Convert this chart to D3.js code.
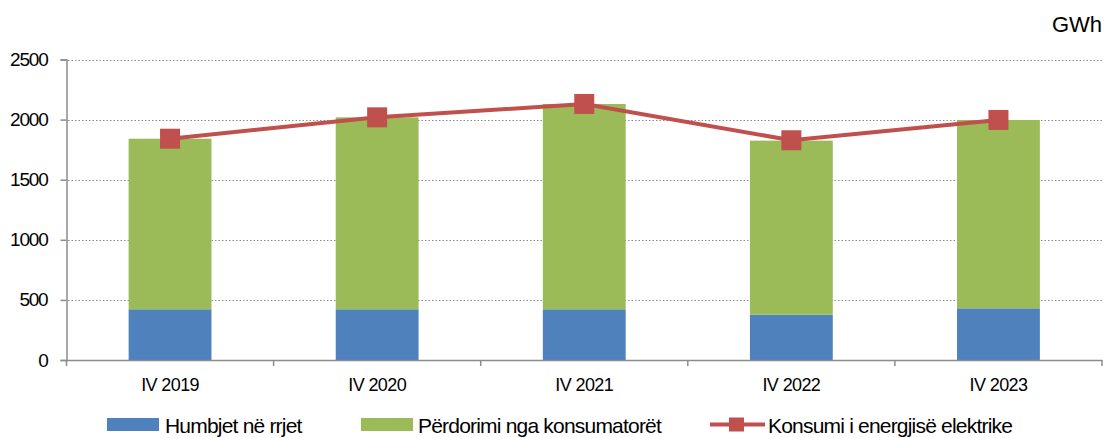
<!DOCTYPE html>
<html>
<head>
<meta charset="utf-8">
<script src="https://cdn.jsdelivr.net/npm/d3@7"></script>
<style>
  body { margin: 0; background: #fff; }
  svg text { font-family: "Liberation Sans", Arial, sans-serif; fill: #000; }
</style>
</head>
<body>
<div id="chart"></div>
<script>
// data
const categories = ['IV 2019', 'IV 2020', 'IV 2021', 'IV 2022', 'IV 2023'];
const humbjet = [422, 422, 422, 377, 430];
const perdorimi = [1419, 1597, 1708, 1448, 1567];
const konsumi = [1841, 2019, 2130, 1828, 1997];
const yTicks = [0, 500, 1000, 1500, 2000, 2500];
const seriesNames = ['Humbjet në rrjet', 'Përdorimi nga konsumatorët', 'Konsumi i energjisë elektrike'];

const width = 1106, height = 438;
const colors = {blue: '#4f81bd', green: '#9bbb59', red: '#c0504d'};

const svg = d3.select('#chart').append('svg')
    .attr('width', width).attr('height', height);

const x = d3.scaleBand().domain(categories).range([66.5, 1102]).paddingInner(0.6).paddingOuter(0.3);
const xb = d3.scaleBand().domain(categories).range([66.5, 1102]);
const y = d3.scaleLinear().domain([0, 2500]).range([360, 59.5]);

// gridlines
svg.append('g').selectAll('line').data(yTicks.slice(1)).join('line')
    .attr('x1', 68).attr('x2', 1102)
    .attr('y1', d => Math.round(y(d)) + 0.5).attr('y2', d => Math.round(y(d)) + 0.5)
    .attr('stroke', '#8c8c8c').attr('stroke-width', 1.2).attr('stroke-dasharray', '1.5,2');

// stacked bars
const rows = categories.map((c, i) => ({c, h: humbjet[i], p: perdorimi[i]}));
const bars = svg.append('g');
bars.selectAll('.b').data(rows).join('rect')
    .attr('x', d => x(d.c)).attr('width', x.bandwidth())
    .attr('y', d => y(d.h)).attr('height', d => y(0) - y(d.h))
    .attr('fill', colors.blue);
bars.selectAll('.g').data(rows).join('rect')
    .attr('x', d => x(d.c)).attr('width', x.bandwidth())
    .attr('y', d => y(d.h + d.p)).attr('height', d => y(d.h) - y(d.h + d.p))
    .attr('fill', colors.green);

// y axis
const yAxis = svg.append('g').attr('transform', 'translate(66.5,0)')
    .call(d3.axisLeft(y).tickValues(yTicks).tickSize(6).tickPadding(13).tickFormat(d3.format('d')));
yAxis.select('.domain').attr('stroke', '#8c8c8c').attr('stroke-width', 1.5);
yAxis.selectAll('.tick line').attr('stroke', '#8c8c8c').attr('stroke-width', 1.5);
yAxis.selectAll('text').attr('font-size', 19).style('letter-spacing', '-1.2px');

// x axis
const xAxis = svg.append('g').attr('transform', 'translate(0,360)')
    .call(d3.axisBottom(xb).tickSize(0).tickPadding(18));
xAxis.select('.domain').attr('stroke', '#8c8c8c').attr('stroke-width', 1.5);
xAxis.selectAll('text').attr('font-size', 18).style('letter-spacing', '-0.6px');
xAxis.append('g').selectAll('line').data(categories.concat([null])).join('line')
    .attr('x1', (d, i) => i < categories.length ? xb(d) : 1102)
    .attr('x2', (d, i) => i < categories.length ? xb(d) : 1102)
    .attr('y1', 0).attr('y2', 6)
    .attr('stroke', '#8c8c8c').attr('stroke-width', 1.5);

// line series
const cx = c => x(c) + x.bandwidth() / 2;
const line = d3.line().x((d, i) => cx(categories[i])).y(d => y(d));
svg.append('path').datum(konsumi)
    .attr('d', line).attr('fill', 'none')
    .attr('stroke', colors.red).attr('stroke-width', 4);
svg.append('g').selectAll('rect').data(konsumi).join('rect')
    .attr('x', (d, i) => cx(categories[i]) - 10).attr('y', d => y(d) - 10)
    .attr('width', 20).attr('height', 20).attr('fill', colors.red);

// unit label
svg.append('text').attr('x', 1102).attr('y', 31.5).attr('text-anchor', 'end')
    .attr('font-size', 22).text('GWh');

// legend
const lg = svg.append('g').attr('font-size', 21).style('letter-spacing', '-0.8px');
lg.append('rect').attr('x', 107).attr('y', 418).attr('width', 52).attr('height', 13).attr('fill', colors.blue);
lg.append('text').attr('x', 165).attr('y', 433).text(seriesNames[0]);
lg.append('rect').attr('x', 361).attr('y', 418).attr('width', 52).attr('height', 13).attr('fill', colors.green);
lg.append('text').attr('x', 418).attr('y', 433).text(seriesNames[1]);
lg.append('line').attr('x1', 710).attr('x2', 765).attr('y1', 424.5).attr('y2', 424.5)
    .attr('stroke', colors.red).attr('stroke-width', 4);
lg.append('rect').attr('x', 729).attr('y', 417.5).attr('width', 15).attr('height', 14).attr('fill', colors.red);
lg.append('text').attr('x', 768).attr('y', 433).text(seriesNames[2]);
</script>
</body>
</html>
